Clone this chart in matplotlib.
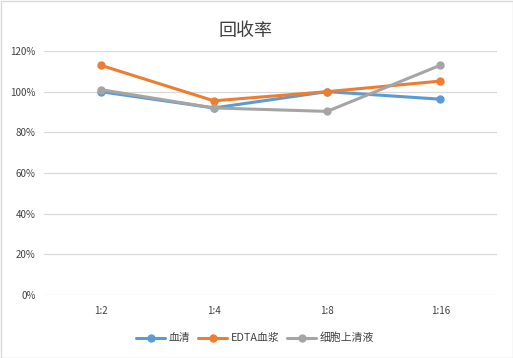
import matplotlib
matplotlib.use("Agg")
import matplotlib.pyplot as plt
from matplotlib.ticker import FuncFormatter

plt.rcParams['font.family'] = ['Noto Sans CJK SC', 'DejaVu Sans']

categories = ["1:2", "1:4", "1:8", "1:16"]
serum = [1.00, 0.92, 1.00, 0.963]
edta = [1.13, 0.955, 1.00, 1.052]
supernatant = [1.01, 0.92, 0.903, 1.13]
series_names = ["血清", "EDTA血浆", "细胞上清液"]
colors = ["#5B9BD5", "#ED7D31", "#A5A5A5"]

fig = plt.figure(figsize=(5.13, 3.58), dpi=100)
fig.patch.set_facecolor("white")
ax = fig.add_axes([44/513, 1-295/358, (497-44)/513, (295-51)/358])

x = list(range(len(categories)))
for vals, name, c in zip([serum, edta, supernatant], series_names, colors):
    ax.plot(x, vals, color=c, linewidth=2.2, marker='o', markersize=5, label=name,
            solid_capstyle='round')

ax.set_xlim(-0.5, len(categories) - 0.5)
ax.set_ylim(0, 1.2)
ax.set_yticks([0, 0.2, 0.4, 0.6, 0.8, 1.0, 1.2])
ax.yaxis.set_major_formatter(FuncFormatter(lambda v, p: f"{v*100:.0f}%"))
ax.set_xticks(x)
ax.set_xticklabels(categories)
ax.grid(axis='y', color="#D9D9D9", linewidth=0.9)
ax.set_axisbelow(True)
for s in ax.spines.values():
    s.set_visible(False)
ax.tick_params(axis='both', length=0, labelsize=7, colors="#404040", pad=6)
ax.tick_params(axis='x', pad=8)

fig.text(246/513, 1-31/358, "回收率", ha='center', va='center', fontsize=13, color="#404040")

fig.legend(loc='center', bbox_to_anchor=(255/513, 1-338/358), ncol=3, frameon=False,
           fontsize=7.8, handlelength=2.7, columnspacing=0.7, handletextpad=0.3,
           labelcolor="#404040")

border = plt.Rectangle((0.5/513, 0.5/358), 1-1/513, 1-1/358, transform=fig.transFigure,
                       fill=False, edgecolor="#D9D9D9", linewidth=1)
fig.patches.append(border)

fig.savefig("out.png", dpi=100)
